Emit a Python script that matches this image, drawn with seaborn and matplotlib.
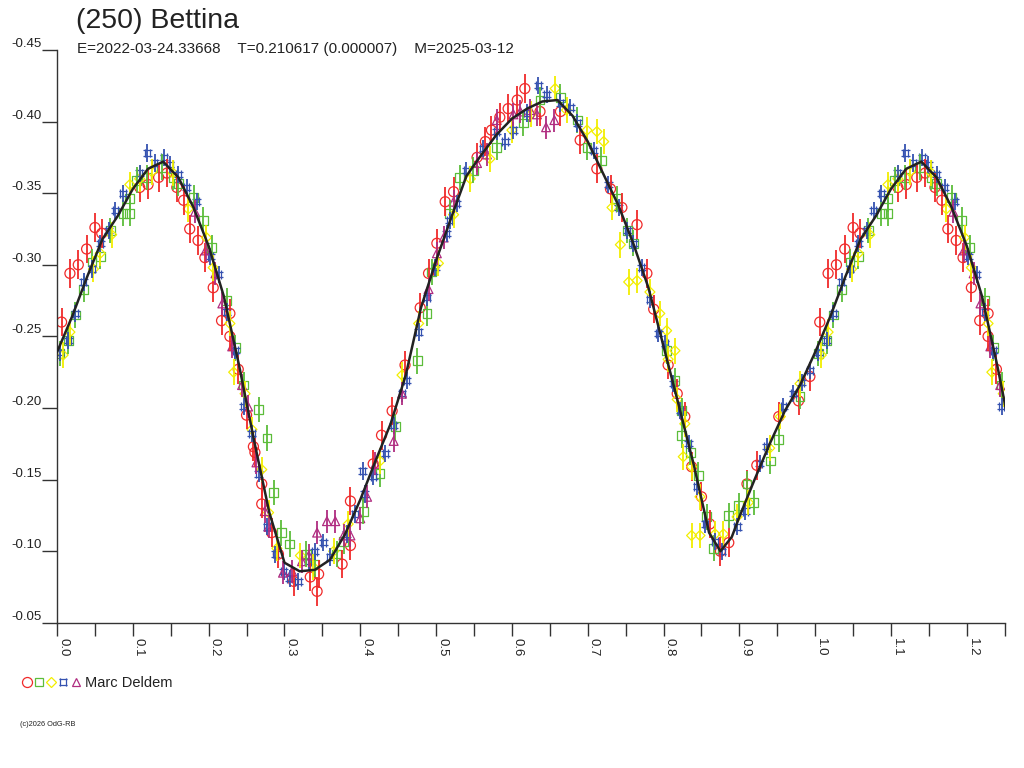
import matplotlib
matplotlib.use("Agg")
import matplotlib.pyplot as plt
from matplotlib.path import Path
from matplotlib.lines import Line2D
from matplotlib.legend_handler import HandlerTuple
import seaborn as sns
import pandas as pd

# Header texts
TITLE = "(250) Bettina"
SUBTITLE = "E=2022-03-24.33668    T=0.210617 (0.000007)    M=2025-03-12"
OBSERVER = "Marc Deldem"
COPYRIGHT = "(c)2026 OdG-RB"

# Axis ticks
XTICKS = [0.0, 0.1, 0.2, 0.3, 0.4, 0.5, 0.6, 0.7, 0.8, 0.9, 1.0, 1.1, 1.2]
XTICK_LABELS = ["0.0", "0.1", "0.2", "0.3", "0.4", "0.5", "0.6", "0.7", "0.8", "0.9", "1.0", "1.1", "1.2"]
XMINOR = [0.05, 0.15, 0.25, 0.35, 0.45, 0.55, 0.65, 0.75, 0.85, 0.95, 1.05, 1.15, 1.25]
YTICKS = [-0.45, -0.40, -0.35, -0.30, -0.25, -0.20, -0.15, -0.10, -0.05]
YTICK_LABELS = ["-0.45", "-0.40", "-0.35", "-0.30", "-0.25", "-0.20", "-0.15", "-0.10", "-0.05"]

# Fourier fit (phase 0..1)
FIT_PHASE = [0.00, 0.02, 0.04, 0.06, 0.08, 0.10, 0.12, 0.14, 0.16, 0.18,
             0.20, 0.22, 0.24, 0.26, 0.28, 0.30, 0.32, 0.34, 0.36, 0.38,
             0.40, 0.42, 0.44, 0.46, 0.48, 0.50, 0.52, 0.54, 0.56, 0.58,
             0.60, 0.62, 0.64, 0.66, 0.68, 0.70, 0.72, 0.74, 0.76, 0.78,
             0.80, 0.82, 0.84, 0.86, 0.875, 0.89, 0.90, 0.92, 0.94, 0.96,
             0.98, 1.00]
FIT_MAG = [-0.239, -0.264, -0.292, -0.318, -0.334, -0.353, -0.367, -0.372, -0.361, -0.340,
           -0.313, -0.278, -0.230, -0.177, -0.127, -0.092, -0.086, -0.087, -0.094, -0.112,
           -0.136, -0.163, -0.189, -0.223, -0.270, -0.303, -0.333, -0.362, -0.377, -0.391,
           -0.402, -0.409, -0.414, -0.415, -0.404, -0.386, -0.364, -0.342, -0.315, -0.284,
           -0.243, -0.202, -0.160, -0.113, -0.100, -0.110, -0.124, -0.150, -0.175, -0.198,
           -0.216, -0.239]

# Session 1 (red circles)
RED_PHASE = [0.006, 0.017, 0.028, 0.039, 0.050, 0.059, 0.109, 0.120, 0.134, 0.145,
             0.158, 0.167, 0.175, 0.186, 0.195, 0.206, 0.217, 0.228, 0.228, 0.239,
             0.250, 0.259, 0.261, 0.270, 0.270, 0.283, 0.292, 0.312, 0.334, 0.343,
             0.345, 0.376, 0.387, 0.387, 0.417, 0.428, 0.442, 0.459, 0.479, 0.490,
             0.501, 0.512, 0.523, 0.554, 0.565, 0.573, 0.584, 0.595, 0.607, 0.617,
             0.637, 0.664, 0.690, 0.712, 0.730, 0.745, 0.765, 0.778, 0.787, 0.806,
             0.818, 0.828, 0.837, 0.850, 0.861, 0.875, 0.886, 0.910, 0.923, 0.952,
             0.978, 0.993]
RED_MAG = [-0.260, -0.294, -0.300, -0.311, -0.326, -0.322, -0.354, -0.356, -0.361, -0.364,
           -0.354, -0.345, -0.325, -0.317, -0.305, -0.284, -0.261, -0.266, -0.250, -0.227,
           -0.195, -0.173, -0.169, -0.147, -0.133, -0.113, -0.098, -0.079, -0.082, -0.072,
           -0.084, -0.091, -0.104, -0.135, -0.161, -0.181, -0.198, -0.230, -0.270, -0.294,
           -0.315, -0.344, -0.351, -0.375, -0.386, -0.394, -0.403, -0.409, -0.415, -0.423,
           -0.407, -0.407, -0.387, -0.367, -0.353, -0.340, -0.328, -0.294, -0.269, -0.230,
           -0.210, -0.194, -0.159, -0.138, -0.119, -0.100, -0.106, -0.147, -0.160, -0.194,
           -0.205, -0.222]
RED_ERR = 0.010

# Session 2 (green squares)
GREEN_PHASE = [0.004, 0.015, 0.024, 0.035, 0.046, 0.057, 0.070, 0.087, 0.096, 0.096,
               0.105, 0.118, 0.138, 0.153, 0.160, 0.180, 0.193, 0.204, 0.224, 0.235,
               0.246, 0.266, 0.277, 0.286, 0.296, 0.307, 0.329, 0.340, 0.369, 0.378,
               0.404, 0.426, 0.446, 0.475, 0.488, 0.494, 0.518, 0.531, 0.549, 0.580,
               0.615, 0.637, 0.664, 0.686, 0.699, 0.718, 0.738, 0.752, 0.760, 0.804,
               0.815, 0.824, 0.824, 0.835, 0.846, 0.857, 0.866, 0.886, 0.899, 0.910,
               0.919, 0.941, 0.952, 0.980]
GREEN_MAG = [-0.238, -0.247, -0.265, -0.283, -0.302, -0.306, -0.324, -0.336, -0.336, -0.346,
             -0.359, -0.361, -0.368, -0.361, -0.357, -0.347, -0.331, -0.312, -0.275, -0.242,
             -0.216, -0.199, -0.179, -0.141, -0.113, -0.105, -0.098, -0.091, -0.098, -0.107,
             -0.128, -0.154, -0.187, -0.233, -0.266, -0.295, -0.336, -0.361, -0.366, -0.382,
             -0.399, -0.415, -0.417, -0.401, -0.382, -0.373, -0.346, -0.324, -0.315, -0.240,
             -0.219, -0.198, -0.181, -0.169, -0.153, -0.124, -0.102, -0.125, -0.132, -0.147,
             -0.134, -0.163, -0.178, -0.208]
GREEN_ERR = 0.009

# Session 3 (yellow diamonds)
YELLOW_PHASE = [0.008, 0.017, 0.048, 0.057, 0.072, 0.096, 0.109, 0.125, 0.153, 0.173,
                0.197, 0.206, 0.228, 0.233, 0.248, 0.257, 0.270, 0.279, 0.290, 0.321,
                0.338, 0.365, 0.384, 0.426, 0.455, 0.477, 0.503, 0.523, 0.545, 0.571,
                0.600, 0.625, 0.657, 0.672, 0.699, 0.712, 0.721, 0.732, 0.743, 0.754,
                0.765, 0.782, 0.795, 0.804, 0.806, 0.815, 0.818, 0.826, 0.828, 0.837,
                0.837, 0.848, 0.848, 0.868, 0.879, 0.897, 0.912, 0.940, 0.954, 0.980]
YELLOW_MAG = [-0.237, -0.253, -0.297, -0.308, -0.321, -0.356, -0.360, -0.365, -0.364, -0.339,
              -0.319, -0.298, -0.259, -0.225, -0.210, -0.185, -0.157, -0.127, -0.102, -0.097,
              -0.089, -0.100, -0.119, -0.163, -0.223, -0.259, -0.301, -0.335, -0.360, -0.374,
              -0.394, -0.405, -0.423, -0.408, -0.394, -0.393, -0.386, -0.340, -0.314, -0.288,
              -0.289, -0.281, -0.266, -0.254, -0.234, -0.240, -0.206, -0.166, -0.189, -0.159,
              -0.111, -0.138, -0.111, -0.112, -0.112, -0.124, -0.134, -0.172, -0.194, -0.217]
YELLOW_ERR = 0.009

# Session 4 (blue hash)
BLUE_PHASE = [0.004, 0.015, 0.024, 0.035, 0.046, 0.057, 0.068, 0.077, 0.087, 0.109,
              0.119, 0.129, 0.141, 0.149, 0.160, 0.171, 0.184, 0.202, 0.213, 0.224,
              0.235, 0.246, 0.257, 0.266, 0.277, 0.288, 0.299, 0.307, 0.318, 0.332,
              0.340, 0.351, 0.360, 0.382, 0.393, 0.403, 0.406, 0.417, 0.433, 0.444,
              0.455, 0.461, 0.477, 0.488, 0.499, 0.514, 0.518, 0.527, 0.540, 0.562,
              0.580, 0.591, 0.602, 0.620, 0.635, 0.646, 0.664, 0.677, 0.686, 0.708,
              0.727, 0.741, 0.752, 0.760, 0.771, 0.782, 0.793, 0.802, 0.813, 0.822,
              0.833, 0.844, 0.855, 0.868, 0.877, 0.897, 0.908, 0.927, 0.936, 0.958,
              0.971, 0.982, 0.993]
BLUE_MAG = [-0.239, -0.247, -0.266, -0.288, -0.297, -0.315, -0.324, -0.338, -0.350, -0.364,
            -0.378, -0.371, -0.375, -0.370, -0.363, -0.354, -0.344, -0.306, -0.293, -0.267,
            -0.240, -0.201, -0.182, -0.154, -0.117, -0.098, -0.086, -0.081, -0.079, -0.093,
            -0.100, -0.106, -0.096, -0.112, -0.126, -0.156, -0.140, -0.152, -0.168, -0.188,
            -0.210, -0.219, -0.253, -0.277, -0.298, -0.322, -0.331, -0.343, -0.366, -0.381,
            -0.393, -0.386, -0.394, -0.406, -0.425, -0.419, -0.413, -0.410, -0.399, -0.380,
            -0.356, -0.340, -0.324, -0.315, -0.298, -0.276, -0.252, -0.245, -0.217, -0.198,
            -0.175, -0.145, -0.119, -0.107, -0.100, -0.117, -0.128, -0.161, -0.173, -0.201,
            -0.210, -0.218, -0.226]
BLUE_ERR = 0.006

# Session 5 (purple triangles)
PURPLE_PHASE = [0.182, 0.196, 0.209, 0.218, 0.231, 0.244, 0.252, 0.263, 0.274, 0.279,
                0.298, 0.310, 0.323, 0.332, 0.343, 0.356, 0.367, 0.378, 0.387, 0.400,
                0.409, 0.420, 0.444, 0.455, 0.490, 0.501, 0.510, 0.523, 0.554, 0.567,
                0.580, 0.602, 0.611, 0.624, 0.633, 0.645, 0.656]
PURPLE_MAG = [-0.337, -0.310, -0.294, -0.273, -0.243, -0.216, -0.201, -0.162, -0.128, -0.117,
              -0.085, -0.086, -0.093, -0.097, -0.113, -0.121, -0.121, -0.111, -0.111, -0.123,
              -0.138, -0.161, -0.177, -0.210, -0.283, -0.308, -0.319, -0.344, -0.371, -0.377,
              -0.401, -0.405, -0.407, -0.408, -0.405, -0.396, -0.401]
PURPLE_ERR = 0.008

sns.set_style("ticks")
plt.rcParams['font.family'] = ['Liberation Sans', 'DejaVu Sans']
plt.rcParams['axes.unicode_minus'] = False

TEXT_COLOR = "#222222"
AXIS_COLOR = "#333333"

# '#'-like marker used for the blue session
HASH = Path(
    [(-0.5, 0.3), (0.5, 0.3), (-0.5, -0.3), (0.5, -0.3),
     (-0.3, 0.5), (-0.3, -0.5), (0.3, 0.5), (0.3, -0.5)],
    [Path.MOVETO, Path.LINETO] * 4
)

sessions = [
    (RED_PHASE, RED_MAG, RED_ERR, "o", 52, "#f02a2a"),
    (GREEN_PHASE, GREEN_MAG, GREEN_ERR, "s", 40, "#5cbd3a"),
    (YELLOW_PHASE, YELLOW_MAG, YELLOW_ERR, "D", 26, "#f2ee00"),
    (BLUE_PHASE, BLUE_MAG, BLUE_ERR, HASH, 40, "#3552b0"),
    (PURPLE_PHASE, PURPLE_MAG, PURPLE_ERR, "^", 40, "#b02c80"),
]

fig = plt.figure(figsize=(10.24, 7.68), dpi=100)
ax = fig.add_axes([0.0557, 0.189, 0.9255, 0.746])

for phase, mag, err, marker, size, color in sessions:
    df = pd.DataFrame({"phase": phase, "mag": mag})
    # repeat the first quarter of the cycle after phase 1
    extra = df[df["phase"] < 0.25].copy()
    extra["phase"] = extra["phase"] + 1
    df = pd.concat([df, extra], ignore_index=True)
    ax.vlines(df["phase"], df["mag"] - err, df["mag"] + err, colors=color, lw=1.3)
    sns.scatterplot(data=df, x="phase", y="mag", marker=marker, s=size,
                    color=color, facecolor="none", edgecolor=color,
                    linewidth=0.9, ax=ax, legend=False)

fit = pd.DataFrame({"phase": FIT_PHASE, "mag": FIT_MAG})
fit_extra = fit[fit["phase"] < 0.27].copy()
fit_extra["phase"] = fit_extra["phase"] + 1
fit = pd.concat([fit, fit_extra.iloc[1:]], ignore_index=True)
sns.lineplot(data=fit, x="phase", y="mag", color="#222222", lw=1.8,
             errorbar=None, ax=ax, zorder=5)

ax.set_xlim(0, 1.25)
ax.set_ylim(-0.05, -0.45)
ax.set_xlabel("")
ax.set_ylabel("")

ax.set_xticks(XTICKS)
ax.set_xticklabels(XTICK_LABELS, rotation=-90, ha="left", va="top")
ax.set_xticks(XMINOR, minor=True)
ax.set_yticks(YTICKS)
ax.set_yticklabels(YTICK_LABELS, va="bottom")

ax.tick_params(axis="x", which="both", direction="out", length=9, width=1,
               bottom=True, color=AXIS_COLOR, labelsize=9.5,
               labelcolor=TEXT_COLOR, pad=2)
ax.tick_params(axis="y", which="major", direction="out", length=11, width=1,
               left=True, color=AXIS_COLOR, labelsize=9.5,
               labelcolor=TEXT_COLOR, pad=0)
ax.tick_params(axis="y", which="minor", left=False)

for side in ["top", "right"]:
    ax.spines[side].set_visible(False)
for side in ["left", "bottom"]:
    ax.spines[side].set_color(AXIS_COLOR)
    ax.spines[side].set_linewidth(1)

fig.text(76 / 1024, 1 - 21 / 768, TITLE, fontsize=20.5, color=TEXT_COLOR,
         ha="left", va="center")
fig.text(77 / 1024, 1 - 49 / 768, SUBTITLE, fontsize=11, color=TEXT_COLOR,
         ha="left", va="center")

# legend: the five session markers followed by the observer name
handles = tuple(
    Line2D([], [], ls="none", marker=m, mfc="none", mec=c,
           ms=(s ** 0.5), mew=0.9)
    for _, _, _, m, s, c in sessions
)
ax.legend([handles], [OBSERVER],
          handler_map={tuple: HandlerTuple(ndivide=None, pad=0.1)},
          loc="center left", bbox_to_anchor=(14 / 1024, 1 - 683 / 768),
          bbox_transform=fig.transFigure, frameon=False, fontsize=10.5,
          handlelength=4.1, handletextpad=0.3, borderpad=0,
          labelcolor=TEXT_COLOR)

fig.text(20 / 1024, 1 - 725 / 768, COPYRIGHT, fontsize=5.3, color=TEXT_COLOR,
         ha="left", va="center")

fig.savefig("out.png", dpi=100)
